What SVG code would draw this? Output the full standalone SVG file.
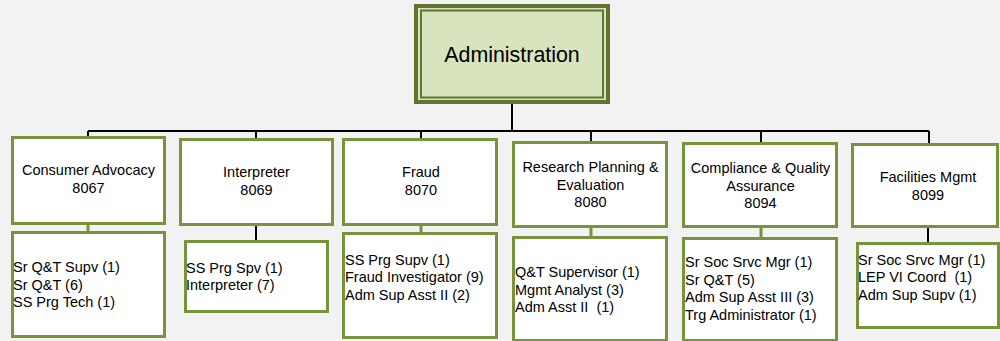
<svg xmlns="http://www.w3.org/2000/svg" width="1000" height="341" viewBox="0 0 1000 341">
<style>
.bg{fill:#f2f2f2}
.box{fill:#ffffff;stroke:#77933c;stroke-width:3}
.t{font-family:"Liberation Sans",Arial,sans-serif;font-size:14.5px;fill:#000;white-space:pre}
.c{text-anchor:middle}
.ln{stroke:#000;stroke-width:2;fill:none}
.lg{stroke:#77933c;stroke-width:3;fill:none}
</style>
<rect class="bg" x="0" y="0" width="1000" height="341"/>
<g id="connectors">
<path class="ln" d="M512 103V131M88 131H929M88 131V137M256 131V139M421 131V139M591 131V142M761 131V143M929 131V144"/>
<path class="lg" d="M88 223V232M421 224V233M591 227V237M761 227V238"/>
<path class="ln" d="M256 224V241M928 227V243"/>
</g>
<g id="admin">
<rect x="416" y="6" width="192" height="96" fill="#d7e4bd" stroke="#5f7530" stroke-width="4"/>
<rect x="421" y="10.5" width="182" height="87" fill="none" stroke="#5f7530" stroke-width="2"/>
<text class="t c" x="512" y="61.5" style="font-size:21.4px">Administration</text>
</g>
<g id="consumer">
<rect class="box" x="12.5" y="137.5" width="152" height="86"/>
<text class="t c" x="88.5" y="175">Consumer Advocacy</text>
<text class="t c" x="88.5" y="192.5">8067</text>
</g>
<g id="consumer-staff">
<rect class="box" x="12.5" y="232.5" width="152" height="104"/>
<text class="t" x="13" y="272">Sr Q&amp;T Supv (1)</text>
<text class="t" x="13" y="289.5">Sr Q&amp;T (6)</text>
<text class="t" x="13" y="307">SS Prg Tech (1)</text>
</g>
<g id="interpreter">
<rect class="box" x="180.5" y="139.5" width="152" height="85"/>
<text class="t c" x="256.5" y="177">Interpreter</text>
<text class="t c" x="256.5" y="195">8069</text>
</g>
<g id="interpreter-staff">
<rect class="box" x="185.5" y="241.5" width="142" height="70"/>
<text class="t" x="186" y="273">SS Prg Spv (1)</text>
<text class="t" x="186" y="290">Interpreter (7)</text>
</g>
<g id="fraud">
<rect class="box" x="343.5" y="139.5" width="153" height="85"/>
<text class="t c" x="421" y="177">Fraud</text>
<text class="t c" x="421" y="195">8070</text>
</g>
<g id="fraud-staff">
<rect class="box" x="343.5" y="233.5" width="153" height="104"/>
<text class="t" x="345" y="264.5">SS Prg Supv (1)</text>
<text class="t" x="345" y="282">Fraud Investigator (9)</text>
<text class="t" x="345" y="299.5">Adm Sup Asst II (2)</text>
</g>
<g id="research">
<rect class="box" x="513.5" y="142.5" width="153" height="84"/>
<text class="t c" x="590.5" y="172">Research Planning &amp;</text>
<text class="t c" x="590.5" y="189.5">Evaluation</text>
<text class="t c" x="590.5" y="207">8080</text>
</g>
<g id="research-staff">
<rect class="box" x="513.5" y="237.5" width="153" height="103"/>
<text class="t" x="515" y="277">Q&amp;T Supervisor (1)</text>
<text class="t" x="515" y="294.5">Mgmt Analyst (3)</text>
<text class="t" x="515" y="312" xml:space="preserve">Adm Asst II  (1)</text>
</g>
<g id="compliance">
<rect class="box" x="683.5" y="143.5" width="153" height="83"/>
<text class="t c" x="760.5" y="173">Compliance &amp; Quality</text>
<text class="t c" x="760.5" y="190.5">Assurance</text>
<text class="t c" x="760.5" y="208">8094</text>
</g>
<g id="compliance-staff">
<rect class="box" x="683.5" y="238.5" width="153" height="102"/>
<text class="t" x="685" y="267">Sr Soc Srvc Mgr (1)</text>
<text class="t" x="685" y="284.5">Sr Q&amp;T (5)</text>
<text class="t" x="685" y="302">Adm Sup Asst III (3)</text>
<text class="t" x="685" y="319.5">Trg Administrator (1)</text>
</g>
<g id="facilities">
<rect class="box" x="852.5" y="144.5" width="145" height="82"/>
<text class="t c" x="928" y="182">Facilities Mgmt</text>
<text class="t c" x="928" y="199.5">8099</text>
</g>
<g id="facilities-staff">
<rect class="box" x="857.5" y="243.5" width="141" height="84"/>
<text class="t" x="858" y="264.5">Sr Soc Srvc Mgr (1)</text>
<text class="t" x="858" y="282" xml:space="preserve">LEP VI Coord  (1)</text>
<text class="t" x="858" y="299.5">Adm Sup Supv (1)</text>
</g>
</svg>
